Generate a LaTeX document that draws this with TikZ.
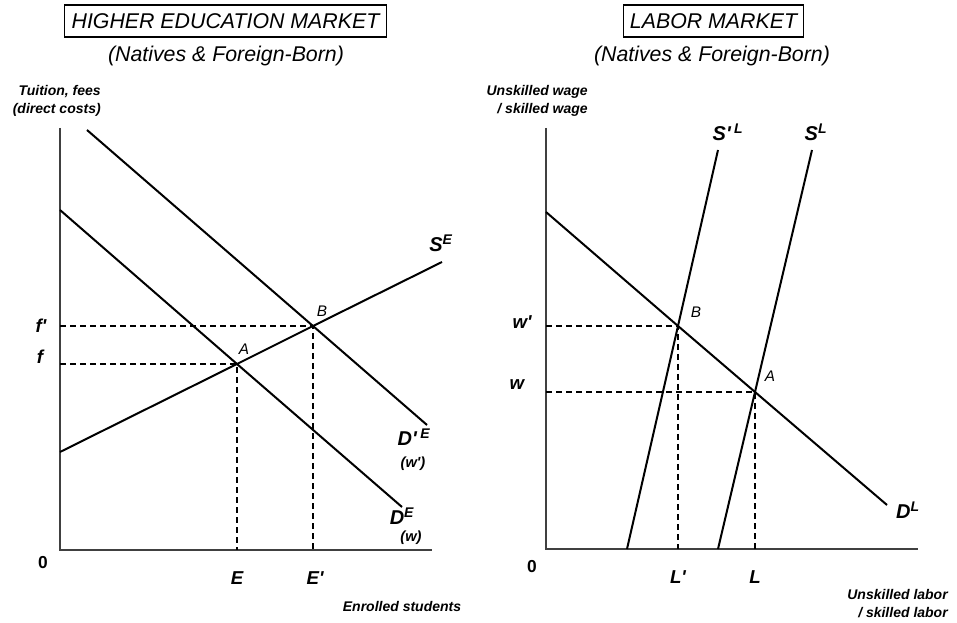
\documentclass[tikz,border=0pt]{standalone}
\usepackage{fontspec}
\setmainfont{Liberation Sans}[Ligatures=TeXOff]
\newcommand{\pr}{'}
\begin{document}
\begin{tikzpicture}[x=0.75pt,y=-0.75pt,
  curve/.style={line width=1.5pt,black,line join=round},
  axisline/.style={line width=1.5pt,black!75},
  guide/.style={line width=1.5pt,dash pattern=on 4.5pt off 3pt},
  titlebox/.style={draw,line width=0.8pt,inner xsep=5pt,minimum height=24pt,font=\itshape\fontsize{16}{18}\selectfont},
  subtitle/.style={font=\itshape\fontsize{16}{18}\selectfont},
  axlbl/.style={font=\bfseries\itshape\fontsize{10.5}{13.5}\selectfont,inner sep=0pt},
  varlbl/.style={font=\bfseries\itshape\fontsize{14}{15}\selectfont,inner sep=0pt},
  ptlbl/.style={font=\itshape\fontsize{11.5}{12}\selectfont,inner sep=0pt},
  curvelbl/.style={font=\bfseries\itshape\fontsize{15}{16}\selectfont,inner sep=0pt},
  sublbl/.style={font=\bfseries\itshape\fontsize{11}{12}\selectfont,inner sep=0pt},
  zero/.style={font=\bfseries\fontsize{13}{14}\selectfont,inner sep=0pt}]
\useasboundingbox (0,0) rectangle (957,623);

% ---------------- Left panel ----------------
\node[titlebox] (t1) at (225.5,21) {HIGHER EDUCATION MARKET};
\node[subtitle] (s1) at (226,56) {(Natives \& Foreign-Born)};
\node[axlbl,anchor=east,align=right] (ya1) at (101,101) {Tuition, fees\\(direct costs)};
\node[axlbl] (xa1) at (402,606) {Enrolled students};

\coordinate (O1) at (60,550);
\coordinate (Y1) at (60,128);
\coordinate (X1) at (432,550);
\draw[axisline] (Y1) -- (O1) -- (X1);

\coordinate (A1) at (237,364);
\coordinate (B1) at (313,326);
\coordinate (D1a) at (87,130);
\coordinate (D1b) at (427,425);
\coordinate (D0a) at (60,210);
\coordinate (D0b) at (402,507);
\coordinate (Sa) at (60,452);
\coordinate (Sb) at (442,262);

\draw[guide] (O1 |- B1) -- (B1) -- (B1 |- O1);
\draw[guide] (O1 |- A1) -- (A1) -- (A1 |- O1);
\draw[curve] (D1a) -- (B1) -- (D1b);
\draw[curve] (D0a) -- (A1) -- (D0b);
\draw[curve] (Sa) -- (A1) -- (B1) -- (Sb);

\node[ptlbl] (lA1) at (244,349) {A};
\node[ptlbl] (lB1) at (322,311) {B};
\node[varlbl] (lfp) at (41,326) {f\pr};
\node[varlbl] (lf) at (40,357) {f};
\node[zero] (z1) at (43,563) {0};
\node[varlbl] (lE) at (237,578) {E};
\node[varlbl] (lEp) at (315,578) {E\pr};
\node[curvelbl] (lSE) at (441,243) {S\textsuperscript{E}};
\node[curvelbl] (lD1) at (414,437) {D\pr\,\textsuperscript{E}};
\node[sublbl] (lw1) at (413,464) {(w\pr)};
\node[curvelbl] (lD0) at (402,516) {D\textsuperscript{E}};
\node[sublbl] (lw0) at (411,538) {(w)};

% ---------------- Right panel ----------------
\node[titlebox] (t2) at (713.5,21) {LABOR MARKET};
\node[subtitle] (s2) at (712,56) {(Natives \& Foreign-Born)};
\node[axlbl,anchor=east,align=right] (ya2) at (588,101) {Unskilled wage\\/ skilled wage};
\node[axlbl,anchor=east,align=right] (xa2) at (948,604) {Unskilled labor\\/ skilled labor};

\coordinate (O2) at (546,549);
\coordinate (Y2) at (546,128);
\coordinate (X2) at (918,549);
\draw[axisline] (Y2) -- (O2) -- (X2);

\coordinate (B2) at (678,326);
\coordinate (A2) at (755,392);
\coordinate (DLa) at (546,212);
\coordinate (DLb) at (887,505);
\coordinate (SPa) at (627,549);
\coordinate (SPb) at (718,150);
\coordinate (SLa) at (718,549);
\coordinate (SLb) at (812,150);

\draw[guide] (O2 |- B2) -- (B2) -- (B2 |- O2);
\draw[guide] (O2 |- A2) -- (A2) -- (A2 |- O2);
\draw[curve] (DLa) -- (B2) -- (A2) -- (DLb);
\draw[curve] (SPa) -- (B2) -- (SPb);
\draw[curve] (SLa) -- (A2) -- (SLb);

\node[ptlbl] (lB2) at (696,312) {B};
\node[ptlbl] (lA2) at (770,376) {A};
\node[varlbl] (lwp) at (522,322) {w\pr};
\node[varlbl] (lw) at (517,385) {w};
\node[zero] (z2) at (532,567) {0};
\node[varlbl] (lLp) at (678,577) {L\pr};
\node[varlbl] (lL) at (755,577) {L};
\node[curvelbl] (lSP) at (728,132) {S\pr\,\textsuperscript{L}};
\node[curvelbl] (lSL) at (816,132) {S\textsuperscript{L}};
\node[curvelbl] (lDL) at (908,510) {D\textsuperscript{L}};
\end{tikzpicture}
\end{document}
